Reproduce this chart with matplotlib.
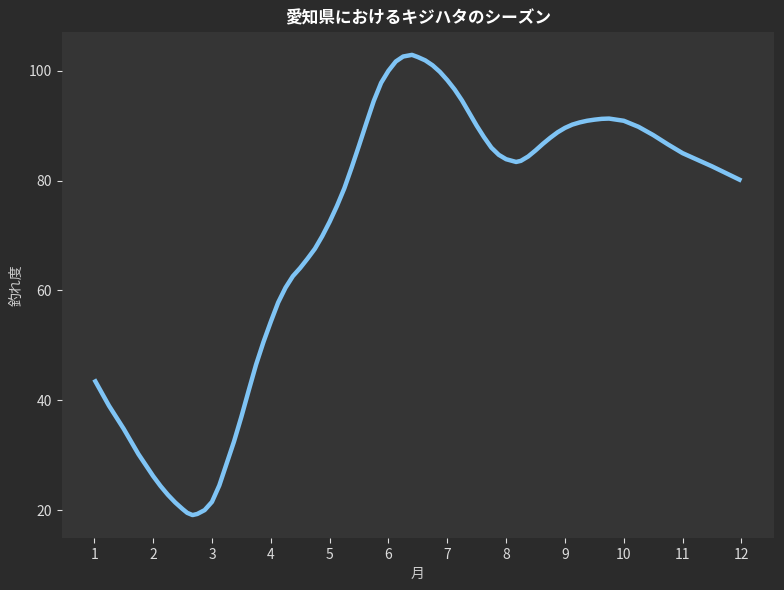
import matplotlib
matplotlib.use("Agg")
import matplotlib.pyplot as plt

plt.rcParams['font.family'] = ['Noto Sans CJK JP', 'DejaVu Sans']

# 月(小数刻みで曲線を読み取った値)
months = [1.000, 1.125, 1.250, 1.375, 1.500, 1.625, 1.750, 1.875, 2.000, 2.125,
          2.250, 2.375, 2.500, 2.580, 2.670, 2.750, 2.875, 3.000, 3.125, 3.250,
          3.375, 3.500, 3.625, 3.750, 3.875, 4.000, 4.125, 4.250, 4.375, 4.500,
          4.625, 4.750, 4.875, 5.000, 5.125, 5.250, 5.375, 5.500, 5.625, 5.750,
          5.875, 6.000, 6.125, 6.250, 6.400, 6.500, 6.625, 6.750, 6.875, 7.000,
          7.125, 7.250, 7.375, 7.500, 7.625, 7.750, 7.875, 8.000, 8.170, 8.250,
          8.375, 8.500, 8.625, 8.750, 8.875, 9.000, 9.125, 9.250, 9.375, 9.500,
          9.625, 9.750, 10.000, 10.250, 10.500, 10.750, 11.000, 11.250, 11.500,
          11.750, 12.000]
# 釣れ度
score = [43.8, 41.4, 39.0, 36.9, 34.8, 32.5, 30.2, 28.2, 26.2, 24.4,
         22.8, 21.4, 20.2, 19.5, 19.1, 19.3, 20.0, 21.5, 24.5, 28.5,
         32.5, 37.0, 41.8, 46.5, 50.6, 54.3, 57.8, 60.5, 62.6, 64.1,
         65.8, 67.6, 69.9, 72.5, 75.4, 78.6, 82.4, 86.4, 90.5, 94.5,
         97.8, 100.0, 101.7, 102.6, 102.9, 102.5, 101.9, 101.0, 99.8, 98.3,
         96.6, 94.6, 92.3, 90.0, 87.9, 86.0, 84.7, 83.9, 83.4, 83.6,
         84.4, 85.5, 86.7, 87.8, 88.8, 89.6, 90.2, 90.6, 90.9, 91.1,
         91.25, 91.3, 90.9, 89.8, 88.3, 86.6, 85.0, 83.8, 82.6,
         81.3, 80.0]
month_ticks = list(range(1, 13))

fig, ax = plt.subplots(figsize=(7.84, 5.9), dpi=100)
fig.patch.set_facecolor('#2b2b2b')
ax.set_facecolor('#353535')

ax.plot(months, score, color='#7fc4f5', linewidth=3.2,
        solid_capstyle='butt', solid_joinstyle='round')

ax.set_xticks(month_ticks)
ax.set_yticks([20, 40, 60, 80, 100])
for s in ax.spines.values():
    s.set_visible(False)
ax.tick_params(colors='#dddddd', labelsize=10)

ax.set_title('愛知県におけるキジハタのシーズン', color='white', fontsize=12, fontweight='bold')
ax.set_xlabel('月', color='#cccccc', fontsize=10)
ax.set_ylabel('釣れ度', color='#cccccc', fontsize=10)

fig.subplots_adjust(left=0.079, right=0.987, top=0.946, bottom=0.088)
fig.savefig('out.png', dpi=100, facecolor=fig.get_facecolor())
